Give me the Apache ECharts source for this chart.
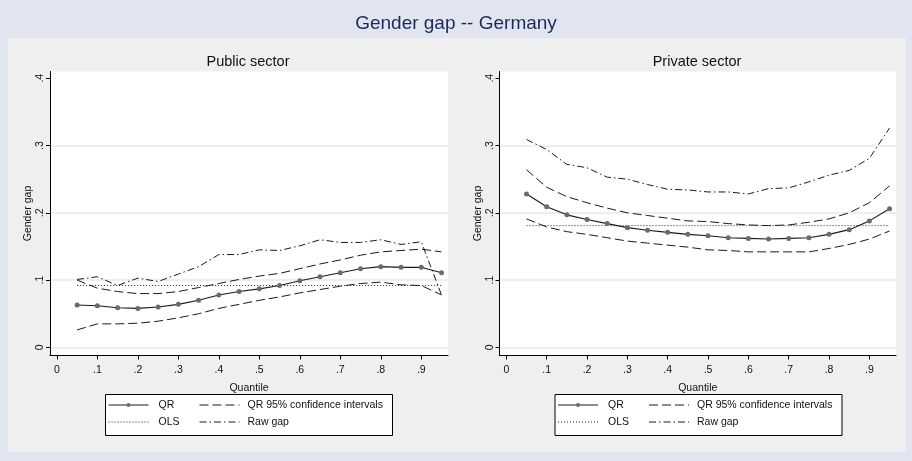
<!DOCTYPE html>
<html>
<head>
<meta charset="utf-8">
<script src="https://cdn.jsdelivr.net/npm/echarts@6/dist/echarts.min.js"></script>
<style>
  html, body { margin: 0; padding: 0; background: #e1e5ef; }
  #chart { width: 912px; height: 461px; }
</style>
</head>
<body>
<div id="chart"></div>
<script>
// Quantiles at which the regressions were estimated
const quantiles = [0.05, 0.10, 0.15, 0.20, 0.25, 0.30, 0.35, 0.40, 0.45, 0.50,
                   0.55, 0.60, 0.65, 0.70, 0.75, 0.80, 0.85, 0.90, 0.95];

// Public sector
const pubQR    = [0.063, 0.062, 0.059, 0.058, 0.060, 0.064, 0.070, 0.078, 0.083, 0.087,
                  0.092, 0.099, 0.105, 0.111, 0.117, 0.120, 0.119, 0.119, 0.111];
const pubUpper = [0.100, 0.088, 0.083, 0.080, 0.080, 0.083, 0.089, 0.095, 0.101, 0.106,
                  0.110, 0.117, 0.124, 0.130, 0.137, 0.142, 0.144, 0.146, 0.142];
const pubLower = [0.026, 0.035, 0.035, 0.036, 0.039, 0.044, 0.050, 0.058, 0.064, 0.070,
                  0.075, 0.081, 0.086, 0.091, 0.095, 0.097, 0.093, 0.092, 0.078];
const pubRaw   = [0.101, 0.105, 0.092, 0.103, 0.098, 0.109, 0.120, 0.138, 0.138, 0.145,
                  0.144, 0.151, 0.160, 0.156, 0.156, 0.160, 0.153, 0.157, 0.078];
const pubOLS   = 0.092;

// Private sector
const privQR    = [0.228, 0.209, 0.197, 0.190, 0.184, 0.178, 0.174, 0.171, 0.168, 0.166,
                   0.163, 0.162, 0.161, 0.162, 0.163, 0.168, 0.175, 0.188, 0.206];
const privUpper = [0.264, 0.238, 0.224, 0.215, 0.207, 0.200, 0.196, 0.192, 0.188, 0.187,
                   0.184, 0.182, 0.181, 0.182, 0.186, 0.191, 0.200, 0.215, 0.240];
const privLower = [0.191, 0.179, 0.172, 0.168, 0.163, 0.158, 0.155, 0.152, 0.149, 0.145,
                   0.144, 0.142, 0.142, 0.142, 0.142, 0.147, 0.153, 0.161, 0.173];
const privRaw   = [0.309, 0.294, 0.272, 0.267, 0.253, 0.250, 0.242, 0.235, 0.234, 0.231,
                   0.231, 0.228, 0.236, 0.237, 0.246, 0.256, 0.263, 0.281, 0.326];
const privOLS   = 0.181;

// Axis ticks and horizontal grid lines
const xTicks = [0, 0.1, 0.2, 0.3, 0.4, 0.5, 0.6, 0.7, 0.8, 0.9];
const yTicks = [0, 0.1, 0.2, 0.3, 0.4];
const yGridLines = [0, 0.1, 0.2, 0.3];

const panelTitles = ['Public sector', 'Private sector'];
const NAME_QR = 'QR', NAME_CI = 'QR 95% confidence intervals', NAME_OLS = 'OLS', NAME_RAW = 'Raw gap';

const FONT = '"Liberation Sans", Arial, Helvetica, sans-serif';
const INK = '#111';
const Y_MIN = -0.012, Y_MAX = 0.41;

function tickText(v) {
  if (Math.abs(v) < 1e-9) return '0';
  return (Math.round(v * 10) / 10).toString().replace(/^0/, '');
}
function pairs(ys) { return quantiles.map((q, i) => [q, ys[i]]); }

const panels = [
  { left: 50,    width: 398,   qr: pubQR,  up: pubUpper,  lo: pubLower,  raw: pubRaw,  ols: pubOLS,  cx: 248 },
  { left: 499.5, width: 396.5, qr: privQR, up: privUpper, lo: privLower, raw: privRaw, ols: privOLS, cx: 697 }
];

const grid = [], xAxis = [], yAxis = [], series = [], legend = [], graphic = [];

graphic.push({ type: 'rect', z: -30, shape: { x: 8, y: 38, width: 898, height: 414 },
               style: { fill: '#efefef' } });

panels.forEach((p, i) => {
  grid.push({ left: p.left, top: 71.5, width: p.width, height: 284,
              show: true, backgroundColor: '#ffffff', borderWidth: 0 });

  xAxis.push({
    type: 'value', gridIndex: i, min: -0.017, max: 0.966,
    name: 'Quantile', nameLocation: 'middle', nameGap: 27,
    nameTextStyle: { color: INK, fontSize: 10.5, fontFamily: FONT },
    axisLine: { show: true, onZero: false, lineStyle: { color: '#000', width: 1 } },
    axisTick: { show: true, customValues: xTicks, length: 4, lineStyle: { color: '#000' } },
    axisLabel: { customValues: xTicks, formatter: tickText, margin: 9,
                 color: INK, fontSize: 10.5, fontFamily: FONT },
    splitLine: { show: false }
  });

  // visible y axis: line, ticks, labels and title
  yAxis.push({
    type: 'value', gridIndex: i, min: Y_MIN, max: Y_MAX, position: 'left',
    name: 'Gender gap', nameLocation: 'middle', nameGap: 14,
    nameTextStyle: { color: INK, fontSize: 10.5, fontFamily: FONT },
    axisLine: { show: true, onZero: false, lineStyle: { color: '#000', width: 1 } },
    axisTick: { show: true, customValues: yTicks, length: 4, lineStyle: { color: '#000' } },
    axisLabel: { customValues: yTicks, formatter: tickText, rotate: 90, margin: 4,
                 color: INK, fontSize: 10.5, fontFamily: FONT },
    splitLine: { show: false }
  });
  // companion y axis that only carries the horizontal grid lines
  yAxis.push({
    type: 'value', gridIndex: i, min: Y_MIN, max: Y_MAX, position: 'left', offset: 0,
    axisLine: { show: false },
    axisTick: { show: false, customValues: yGridLines },
    axisLabel: { show: false, customValues: yGridLines },
    splitLine: { show: true, lineStyle: { color: '#e9e9e9', width: 1.5 } }
  });

  const ya = 2 * i;
  series.push(
    { name: NAME_OLS, type: 'line', xAxisIndex: i, yAxisIndex: ya, symbol: 'none',
      data: pairs(quantiles.map(() => p.ols)),
      lineStyle: { color: '#222', width: 1, type: [1, 2] }, z: 3 },
    { name: NAME_CI, type: 'line', xAxisIndex: i, yAxisIndex: ya, symbol: 'none',
      data: pairs(p.up), lineStyle: { color: '#1a1a1a', width: 1, type: [9, 4] }, z: 3 },
    { name: NAME_CI, type: 'line', xAxisIndex: i, yAxisIndex: ya, symbol: 'none',
      data: pairs(p.lo), lineStyle: { color: '#1a1a1a', width: 1, type: [9, 4] }, z: 3 },
    { name: NAME_RAW, type: 'line', xAxisIndex: i, yAxisIndex: ya, symbol: 'none',
      data: pairs(p.raw), lineStyle: { color: '#1a1a1a', width: 1, type: [7, 3, 1.5, 3] }, z: 3 },
    { name: NAME_QR, type: 'line', xAxisIndex: i, yAxisIndex: ya, symbol: 'circle', symbolSize: 5,
      data: pairs(p.qr), itemStyle: { color: '#6b6b6b' },
      lineStyle: { color: '#1a1a1a', width: 1.1 }, z: 4 }
  );

  // Legend box and its two columns
  const bx = p.left + 55;
  graphic.push({ type: 'rect', z: -5, shape: { x: bx + 0.5, y: 394.5, width: 287, height: 41 },
                 style: { fill: '#ffffff', stroke: '#000', lineWidth: 1 } });
  graphic.push({ type: 'text', x: p.cx, y: 62, z: 5,
                 style: { text: panelTitles[i], fill: INK, font: '14.5px ' + FONT,
                          textAlign: 'center', textVerticalAlign: 'middle' } });

  const legendBase = {
    orient: 'vertical', top: 399.5, itemWidth: 40, itemHeight: 5, itemGap: 6,
    selectedMode: false, padding: 0,
    textStyle: { color: INK, fontSize: 10.5, fontFamily: FONT, padding: [0, 0, 0, 5] },
    lineStyle: { width: 1 }
  };
  legend.push(Object.assign({}, legendBase, {
    left: bx + 3,
    data: [NAME_QR, { name: NAME_OLS, itemStyle: { opacity: 0 } }]
  }));
  legend.push(Object.assign({}, legendBase, {
    left: bx + 94,
    textStyle: Object.assign({}, legendBase.textStyle, { padding: [0, 0, 0, 3] }),
    data: [{ name: NAME_CI, itemStyle: { opacity: 0 } }, { name: NAME_RAW, itemStyle: { opacity: 0 } }]
  }));
});

const chart = echarts.init(document.getElementById('chart'), null, { renderer: 'canvas' });
chart.setOption({
  backgroundColor: '#e1e5ef',
  animation: false,
  title: {
    text: 'Gender gap -- Germany', left: 'center', top: 9,
    textStyle: { color: '#1c2a58', fontSize: 19, fontWeight: 'normal', fontFamily: FONT }
  },
  grid, xAxis, yAxis, series, legend, graphic
});
</script>
</body>
</html>
